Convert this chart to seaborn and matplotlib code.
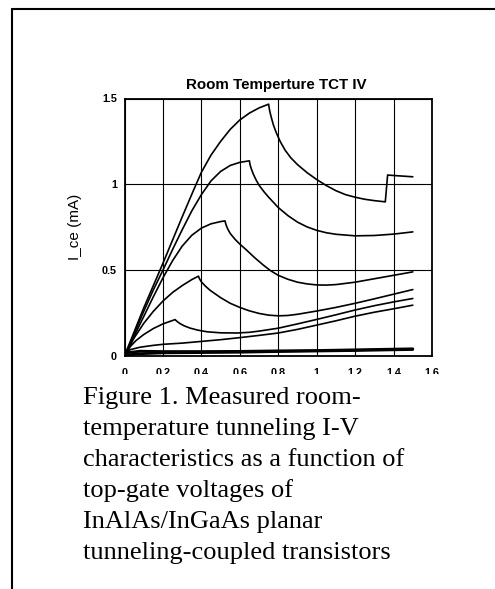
import numpy as np
import pandas as pd
import matplotlib
matplotlib.use("Agg")
import matplotlib.pyplot as plt
from matplotlib.patches import Rectangle
from matplotlib.lines import Line2D
import seaborn as sns

# ---- data ----
x1 = [0, 0.05, 0.1, 0.15, 0.2, 0.25, 0.3, 0.357, 0.4, 0.45, 0.5, 0.55, 0.6, 0.65, 0.7, 0.75,
      0.752, 0.757, 0.765, 0.775, 0.79, 0.81, 0.835, 0.865, 0.9, 0.95, 1.0, 1.05, 1.1, 1.15,
      1.2, 1.25, 1.3, 1.357,
      1.369, 1.42, 1.5]
y1 = [0, 0.14, 0.28, 0.41, 0.54, 0.675, 0.81, 0.96, 1.07, 1.17, 1.25, 1.32, 1.375, 1.415, 1.445, 1.467,
      1.45, 1.42, 1.385, 1.345, 1.30, 1.25, 1.20, 1.155, 1.115, 1.068, 1.028, 0.993, 0.963, 0.94,
      0.925, 0.913, 0.905, 0.898,
      1.054, 1.05, 1.044]

x2 = [0, 0.05, 0.1, 0.15, 0.2, 0.25, 0.3, 0.35, 0.4, 0.45, 0.5, 0.55, 0.6, 0.65,
      0.653, 0.66, 0.67, 0.685, 0.7, 0.725, 0.75, 0.775, 0.8, 0.85, 0.9, 0.95, 1.0, 1.05,
      1.1, 1.2, 1.3, 1.4, 1.5]
y2 = [0, 0.13, 0.26, 0.385, 0.5, 0.62, 0.735, 0.845, 0.94, 1.02, 1.075, 1.11, 1.128, 1.137,
      1.115, 1.09, 1.06, 1.025, 0.995, 0.958, 0.925, 0.895, 0.865, 0.818, 0.78, 0.752, 0.732, 0.718,
      0.709, 0.70, 0.702, 0.71, 0.723]

x3 = [0, 0.05, 0.1, 0.15, 0.2, 0.25, 0.3, 0.35, 0.4, 0.45, 0.5, 0.523,
      0.528, 0.537, 0.55, 0.575, 0.6, 0.636, 0.68, 0.723, 0.76, 0.8, 0.85, 0.9, 0.95, 1.0,
      1.05, 1.1, 1.2, 1.3, 1.4, 1.5]
y3 = [0, 0.115, 0.23, 0.345, 0.455, 0.555, 0.64, 0.703, 0.745, 0.77, 0.783, 0.787,
      0.765, 0.74, 0.714, 0.68, 0.652, 0.616, 0.57, 0.529, 0.497, 0.47, 0.447, 0.43, 0.42, 0.414,
      0.413, 0.416, 0.43, 0.45, 0.47, 0.49]

x4 = [0, 0.05, 0.1, 0.15, 0.2, 0.25, 0.3, 0.35, 0.385,
      0.39, 0.4, 0.42, 0.445, 0.5, 0.55, 0.6, 0.65, 0.7, 0.75, 0.8, 0.85, 0.9, 1.0,
      1.1, 1.2, 1.3, 1.4, 1.5]
y4 = [0, 0.105, 0.19, 0.26, 0.32, 0.37, 0.41, 0.445, 0.465,
      0.45, 0.432, 0.408, 0.383, 0.34, 0.307, 0.283, 0.263, 0.248, 0.238, 0.234, 0.236, 0.243, 0.262,
      0.283, 0.307, 0.333, 0.36, 0.387]

x5 = [0, 0.03, 0.06, 0.1, 0.15, 0.2, 0.263,
      0.275, 0.29, 0.31, 0.34, 0.38, 0.43, 0.5, 0.584, 0.65, 0.7, 0.8, 0.9, 1.0,
      1.1, 1.2, 1.3, 1.4, 1.5]
y5 = [0, 0.055, 0.09, 0.125, 0.16, 0.187, 0.212,
      0.2, 0.188, 0.176, 0.163, 0.151, 0.141, 0.135, 0.134, 0.138, 0.145, 0.162, 0.187, 0.213,
      0.24, 0.268, 0.293, 0.315, 0.335]

x6 = [0, 0.01, 0.03, 0.08, 0.15, 0.2, 0.3, 0.4, 0.5, 0.6, 0.7, 0.8, 0.9, 1.0, 1.1, 1.2, 1.3, 1.4, 1.5]
y6 = [0, 0.02, 0.037, 0.051, 0.062, 0.068, 0.075, 0.085, 0.095, 0.107, 0.12, 0.134, 0.155, 0.18,
      0.205, 0.232, 0.255, 0.275, 0.296]

x7 = [0, 0.02, 0.08, 0.2, 0.4, 0.6, 0.8, 1.0, 1.2, 1.4, 1.5]
y7 = [0, 0.02, 0.028, 0.026, 0.026, 0.027, 0.03, 0.032, 0.036, 0.04, 0.042]

x8 = [0, 0.05, 0.2, 0.4, 0.6, 0.8, 1.0, 1.2, 1.4, 1.5]
y8 = [0, 0.012, 0.018, 0.02, 0.022, 0.026, 0.029, 0.032, 0.036, 0.038]

x_ticks = [0, 0.2, 0.4, 0.6, 0.8, 1.0, 1.2, 1.4, 1.6]
x_tick_labels = ["0", "0.2", "0.4", "0.6", "0.8", "1", "1.2", "1.4", "1.6"]
y_ticks = [0, 0.5, 1.0, 1.5]
y_tick_labels = ["0", "0.5", "1", "1.5"]

title = "Room Temperture TCT IV"
ylabel = "I_ce (mA)"
caption_lines = [
    "Figure 1. Measured room-",
    "temperature tunneling I-V",
    "characteristics as a function of",
    "top-gate voltages of",
    "InAlAs/InGaAs planar",
    "tunneling-coupled transistors",
]

thin = {"c1": (x1, y1), "c2": (x2, y2), "c3": (x3, y3), "c4": (x4, y4),
        "c5": (x5, y5), "c6": (x6, y6)}
thick = {"c7": (x7, y7), "c8": (x8, y8)}

def to_df(d):
    rows = []
    for k, (xs, ys) in d.items():
        for a, b in zip(xs, ys):
            rows.append((k, a, b))
    return pd.DataFrame(rows, columns=["curve", "V", "I"])

df_thin = to_df(thin)
df_thick = to_df(thick)

# ---- figure ----
sns.set_theme(style="white")
plt.rcParams["font.family"] = ["Liberation Sans", "DejaVu Sans"]

W, H = 495, 589
fig = plt.figure(figsize=(W / 100, H / 100), dpi=100)
fig.patch.set_facecolor("white")

axl, axr, axt, axb = 124.5, 432, 98.5, 356
ax = fig.add_axes([axl / W, 1 - axb / H, (axr - axl) / W, (axb - axt) / H])
ax.set_facecolor("white")

sns.lineplot(data=df_thin, x="V", y="I", units="curve", estimator=None, sort=False,
             color="black", lw=1.2, ax=ax, zorder=3)
sns.lineplot(data=df_thick, x="V", y="I", units="curve", estimator=None, sort=False,
             color="black", lw=2.0, ax=ax, zorder=3)

ax.set_xlim(0, 1.6)
ax.set_ylim(0, 1.5)
ax.set_xticks(x_ticks)
ax.set_xticklabels(x_tick_labels)
ax.set_yticks(y_ticks)
ax.set_yticklabels(y_tick_labels)
ax.grid(True, color="black", lw=0.8)
ax.set_axisbelow(True)
for s in ax.spines.values():
    s.set_visible(True)
    s.set_color("black")
    s.set_linewidth(1.3)
ax.tick_params(axis="x", length=0, pad=8.5, labelsize=7.8, colors="black")
ax.tick_params(axis="y", length=0, pad=5.5, labelsize=7.8, colors="black")
for t in ax.get_xticklabels() + ax.get_yticklabels():
    t.set_fontweight("bold")
ax.set_xlabel("")
ax.set_ylabel("")

fig.text(276 / W, 1 - 89 / H, title, ha="center", va="baseline",
         fontsize=10.9, fontweight="bold", color="black")
fig.text(75.5 / W, 1 - 227 / H, ylabel, ha="center", va="center",
         rotation=90, fontsize=11, color="black")

# white area of the caption box that clips the x tick labels
fig.patches.append(Rectangle((14 / W, 0), 1, 1 - 374 / H, transform=fig.transFigure,
                             facecolor="white", edgecolor="none", zorder=2))

for i, line in enumerate(caption_lines):
    fig.text(83 / W, 1 - (404 + 31 * i) / H, line, ha="left", va="baseline",
             fontsize=19, family=["Liberation Serif", "DejaVu Serif"], color="black",
             zorder=4)

# outer border (left and top edges visible)
fig.lines.append(Line2D([12.3 / W, 12.3 / W], [0, 1 - 8.5 / H], transform=fig.transFigure,
                        color="black", lw=1.5, zorder=5))
fig.lines.append(Line2D([12.3 / W, 1.01], [1 - 8.5 / H, 1 - 8.5 / H], transform=fig.transFigure,
                        color="black", lw=1.5, zorder=5))

fig.savefig("out.png", dpi=100)
